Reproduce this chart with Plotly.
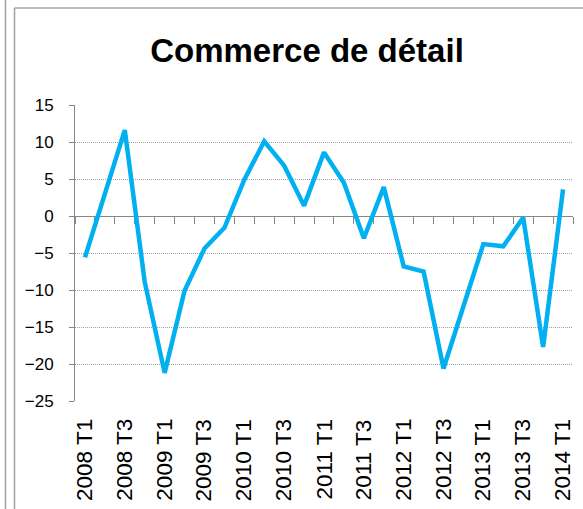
import plotly.graph_objects as go

# ---- data ----
categories = [
    "2008 T1", "2008 T2", "2008 T3", "2008 T4",
    "2009 T1", "2009 T2", "2009 T3", "2009 T4",
    "2010 T1", "2010 T2", "2010 T3", "2010 T4",
    "2011 T1", "2011 T2", "2011 T3", "2011 T4",
    "2012 T1", "2012 T2", "2012 T3", "2012 T4",
    "2013 T1", "2013 T2", "2013 T3", "2013 T4",
    "2014 T1",
]
values = [
    -5.6, 3.0, 11.6, -8.9,
    -21.2, -10.1, -4.4, -1.6,
    4.9, 10.1, 6.8, 1.4,
    8.6, 4.5, -3.0, 3.9,
    -6.8, -7.5, -20.6, -12.2,
    -3.8, -4.1, -0.2, -17.7,
    3.6,
]
tick_labels = categories[::2]
y_ticks = [-25, -20, -15, -10, -5, 0, 5, 10, 15]
title_text = "Commerce de détail"

# ---- layout geometry ----
W, H = 583, 509
ML, MR, MT, MB = 75, 10, 105, 108
PW, PH = W - ML - MR, H - MT - MB


def px_x(px):
    return (px - ML) / PW


def px_y(py):
    return (H - MB - py) / PH


FONT = "Liberation Sans"
GRID = "#a0a0a0"
AXIS = "#868686"
FRAME = "#a6a6a6"

fig = go.Figure()
fig.add_trace(go.Scatter(
    x=categories, y=values, mode="lines",
    line=dict(color="#00B0F0", width=4.5),
    showlegend=False, hoverinfo="x+y",
))

y_min, y_max = min(y_ticks), max(y_ticks)
zero_pos = (0 - y_min) / (y_max - y_min)

annotations = [
    dict(text=lab, x=lab, xref="x", y=px_y(417), yref="paper",
         xanchor="center", yanchor="top", textangle=-90, showarrow=False,
         font=dict(family=FONT, size=22.5, color="black"))
    for lab in tick_labels
]

fig.update_layout(
    width=W, height=H,
    margin=dict(l=ML, r=MR, t=MT, b=MB, autoexpand=False),
    paper_bgcolor="white", plot_bgcolor="white",
    font=dict(family=FONT, color="black"),
    title=dict(
        text=title_text,
        font=dict(family=FONT, size=33, color="black", weight="bold"),
        x=px_x(307), xref="paper", xanchor="center",
        y=1 - 50 / H, yref="container", yanchor="middle",
    ),
    xaxis=dict(
        type="category", categoryorder="array", categoryarray=categories,
        range=[-0.5, len(categories) - 0.5],
        anchor="free", position=zero_pos,
        tickmode="linear", tick0=0, dtick=1, tickson="boundaries",
        showticklabels=False, ticks="outside", ticklen=7, tickwidth=1,
        tickcolor=AXIS, showline=True, linecolor=AXIS, linewidth=1,
        showgrid=False, zeroline=False, layer="below traces",
    ),
    yaxis=dict(
        range=[y_min, y_max], tickmode="array", tickvals=y_ticks,
        tickfont=dict(family=FONT, size=17, color="black"),
        showgrid=True, gridcolor=GRID, gridwidth=1, griddash="1px,1px",
        zeroline=False, showline=True, linecolor=AXIS, linewidth=1,
        ticks="outside", ticklen=5, tickcolor=AXIS, tickwidth=1,
        ticklabelstandoff=12, layer="below traces",
    ),
    annotations=annotations,
    shapes=[
        dict(type="line", xref="paper", yref="paper",
             x0=px_x(5.5), x1=px_x(5.5), y0=px_y(0), y1=px_y(H),
             line=dict(color=FRAME, width=1.6)),
        dict(type="line", xref="paper", yref="paper",
             x0=px_x(14.5), x1=px_x(14.5), y0=px_y(8), y1=px_y(H),
             line=dict(color=FRAME, width=1.6)),
        dict(type="line", xref="paper", yref="paper",
             x0=px_x(14.5), x1=px_x(W), y0=px_y(8), y1=px_y(8),
             line=dict(color=FRAME, width=1.6)),
    ],
)

fig.write_html(
    "out.html",
    config={"displayModeBar": False},
    post_script="document.body.style.margin='0';document.body.style.overflow='hidden';",
)
